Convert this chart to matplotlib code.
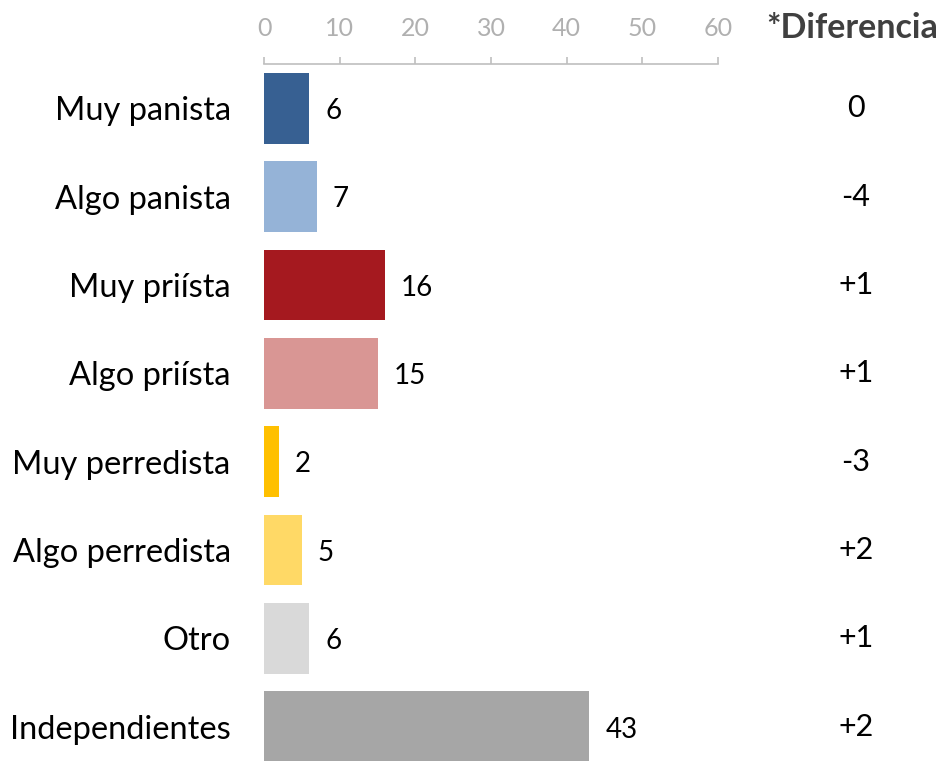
import matplotlib.pyplot as plt
from matplotlib import transforms

plt.rcParams['font.family'] = ['Lato', 'DejaVu Sans']

categories = ['Muy panista', 'Algo panista', 'Muy priísta', 'Algo priísta',
              'Muy perredista', 'Algo perredista', 'Otro', 'Independientes']
values = [6, 7, 16, 15, 2, 5, 6, 43]
diferencia = ['0', '-4', '+1', '+1', '-3', '+2', '+1', '+2']
colors = ['#376092', '#95b3d7', '#a5191f', '#d99694',
          '#ffc000', '#ffd966', '#d9d9d9', '#a6a6a6']
xticks = [0, 10, 20, 30, 40, 50, 60]

W, H = 943, 761
fig = plt.figure(figsize=(W / 100, H / 100), dpi=100)
# axes spans from the axis line (y=64) to below the picture edge
left, right = 264 / W, 718 / W
top, bottom = 64 / H, 771 / H
ax = fig.add_axes([left, 1 - bottom, right - left, bottom - top])

ypos = range(len(categories))
ax.barh(ypos, values, height=0.8, color=colors)
ax.set_ylim(len(categories) - 0.5, -0.5)
ax.set_xlim(0, 60)

for y, v in zip(ypos, values):
    ax.annotate(str(v), (v, y), xytext=(11.5, -2), textcoords='offset points',
                ha='left', va='center', fontsize=20, color='#000000')

ax.xaxis.tick_top()
ax.set_xticks(xticks)
ax.tick_params(axis='x', colors='#bfbfbf', labelcolor='#b0b0b0',
               labelsize=18, length=5, width=1.2, pad=12, direction='out')
ax.set_yticks(list(ypos))
ax.set_yticklabels(categories, fontsize=23.5)
ax.tick_params(axis='y', length=0, pad=24)

for s in ['bottom', 'left', 'right']:
    ax.spines[s].set_visible(False)
ax.spines['top'].set_color('#bfbfbf')
ax.spines['top'].set_linewidth(1.2)

trans = transforms.blended_transform_factory(fig.transFigure, ax.transData)
for y, d in zip(ypos, diferencia):
    ax.text(856 / W, y, d, transform=trans, ha='center', va='center',
            fontsize=22, color='#000000')
fig.text(852 / W, 1 - 28 / H, '*Diferencia', ha='center', va='center',
         fontsize=24.5, fontweight='bold', color='#404040')

fig.savefig('out.png', dpi=100)
